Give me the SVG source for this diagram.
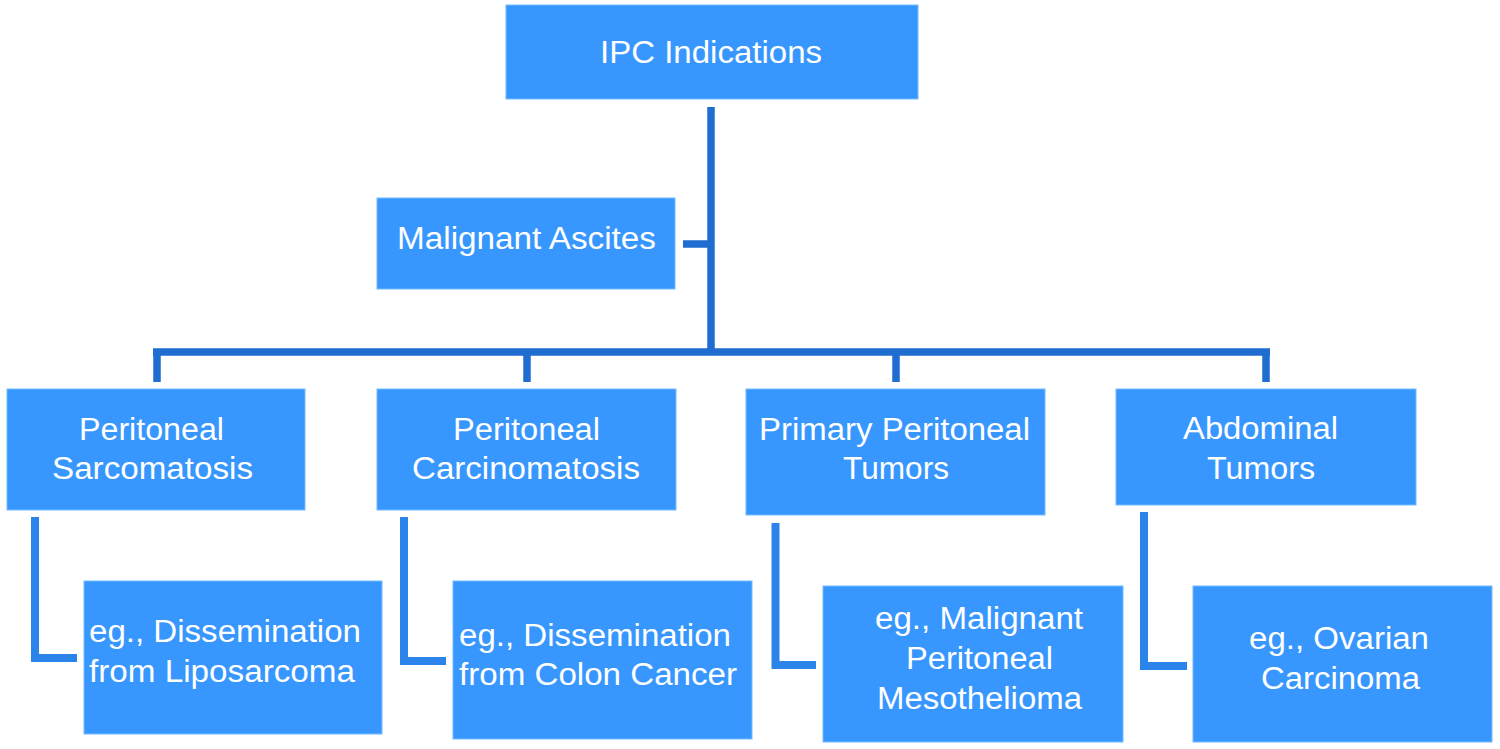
<svg xmlns="http://www.w3.org/2000/svg" width="1500" height="749" viewBox="0 0 1500 749">
<style>
.box{fill:#3797fe;stroke:#74bcff;stroke-width:1}
.t{font-family:"Liberation Sans",Arial,Helvetica,sans-serif;font-size:31px;fill:#ffffff}
.main{stroke:#1f6dd0;stroke-width:7.5;fill:none;stroke-linecap:butt}
.elb{stroke:#2b84ea;stroke-width:8;fill:none;stroke-linejoin:miter}
</style>
<rect width="1500" height="749" fill="#ffffff"/>
<g id="connectors">
<line class="main" x1="711" y1="107" x2="711" y2="352"/>
<line class="main" x1="683" y1="244" x2="711" y2="244"/>
<line class="main" x1="153" y1="352" x2="1270" y2="352"/>
<line class="main" x1="157" y1="352" x2="157" y2="382"/>
<line class="main" x1="527" y1="352" x2="527" y2="382"/>
<line class="main" x1="896" y1="352" x2="896" y2="382"/>
<line class="main" x1="1266" y1="352" x2="1266" y2="382"/>
<path class="elb" d="M35 517 V658 H77"/>
<path class="elb" d="M404 517 V661 H446"/>
<path class="elb" d="M775.5 523 V665 H816"/>
<path class="elb" d="M1144 512 V666 H1187"/>
</g>
<g id="ipc">
<rect class="box" x="506" y="5" width="412" height="94"/>
<text class="t" x="600" y="63" textLength="222" lengthAdjust="spacingAndGlyphs">IPC Indications</text>
</g>
<g id="ascites">
<rect class="box" x="377" y="198" width="298" height="91"/>
<text class="t" x="397" y="249" textLength="259" lengthAdjust="spacingAndGlyphs">Malignant Ascites</text>
</g>
<g id="sarcomatosis">
<rect class="box" x="7" y="389" width="298" height="121"/>
<text class="t" x="79" y="440" textLength="145" lengthAdjust="spacingAndGlyphs">Peritoneal</text>
<text class="t" x="52" y="479" textLength="201" lengthAdjust="spacingAndGlyphs">Sarcomatosis</text>
</g>
<g id="carcinomatosis">
<rect class="box" x="377" y="389" width="299" height="121"/>
<text class="t" x="453" y="440" textLength="147" lengthAdjust="spacingAndGlyphs">Peritoneal</text>
<text class="t" x="412" y="479" textLength="228" lengthAdjust="spacingAndGlyphs">Carcinomatosis</text>
</g>
<g id="primary">
<rect class="box" x="746" y="389" width="299" height="126"/>
<text class="t" x="759" y="440" textLength="271" lengthAdjust="spacingAndGlyphs">Primary Peritoneal</text>
<text class="t" x="843" y="479" textLength="106" lengthAdjust="spacingAndGlyphs">Tumors</text>
</g>
<g id="abdominal">
<rect class="box" x="1116" y="389" width="300" height="116"/>
<text class="t" x="1183" y="439" textLength="155" lengthAdjust="spacingAndGlyphs">Abdominal</text>
<text class="t" x="1207" y="479" textLength="108" lengthAdjust="spacingAndGlyphs">Tumors</text>
</g>
<g id="liposarcoma">
<rect class="box" x="84" y="581" width="298" height="153"/>
<text class="t" x="89" y="642" textLength="272" lengthAdjust="spacingAndGlyphs">eg., Dissemination</text>
<text class="t" x="89" y="682" textLength="266" lengthAdjust="spacingAndGlyphs">from Liposarcoma</text>
</g>
<g id="colon">
<rect class="box" x="453" y="581" width="299" height="158"/>
<text class="t" x="459" y="646" textLength="272" lengthAdjust="spacingAndGlyphs">eg., Dissemination</text>
<text class="t" x="459" y="685" textLength="278" lengthAdjust="spacingAndGlyphs">from Colon Cancer</text>
</g>
<g id="mesothelioma">
<rect class="box" x="823" y="586" width="300" height="156"/>
<text class="t" x="875" y="629" textLength="208" lengthAdjust="spacingAndGlyphs">eg., Malignant</text>
<text class="t" x="906" y="669" textLength="147" lengthAdjust="spacingAndGlyphs">Peritoneal</text>
<text class="t" x="877" y="709" textLength="205" lengthAdjust="spacingAndGlyphs">Mesothelioma</text>
</g>
<g id="ovarian">
<rect class="box" x="1193" y="586" width="299" height="156"/>
<text class="t" x="1249" y="649" textLength="180" lengthAdjust="spacingAndGlyphs">eg., Ovarian</text>
<text class="t" x="1261" y="689" textLength="159" lengthAdjust="spacingAndGlyphs">Carcinoma</text>
</g>
</svg>
